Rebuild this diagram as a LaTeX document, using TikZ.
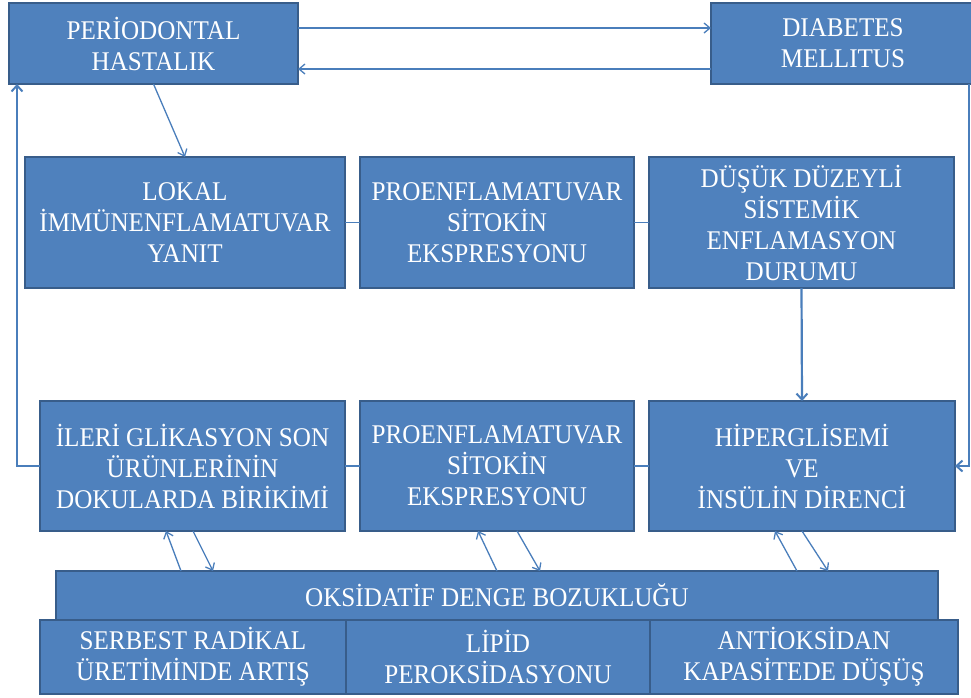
\documentclass[tikz,border=0pt]{standalone}
\usepackage{fontspec}
\setmainfont{Liberation Serif}[FakeStretch=0.93]
\usetikzlibrary{arrows.meta}
\definecolor{boxfill}{HTML}{4F81BD}
\definecolor{boxline}{HTML}{385D8A}
\definecolor{conn}{HTML}{4A7EBB}
\tikzset{
  blk/.style={draw=boxline, fill=boxfill, line width=2.2pt, inner sep=0pt, outer sep=0pt,
    text=white, align=center, font=\fontsize{27}{31}\selectfont},
  link/.style={draw=conn, line width=1.3pt},
  arr/.style={link, -{Straight Barb[length=6pt,width=10pt,line width=1.3pt]}},
  thickarr/.style={draw=conn, line width=2.2pt, -{Straight Barb[length=6pt,width=11pt,line width=2pt]}}
}
\begin{document}
\begin{tikzpicture}[x=1pt,y=-1pt]
\useasboundingbox (0,0) rectangle (971,697);
% top row
\node[blk, minimum width=289, minimum height=81] (ph) at (153.5,43.5) {PERİODONTAL\\HASTALIK};
\node[blk, minimum width=264, minimum height=81] (dm) at (843,43.5) {DIABETES\\MELLITUS};
% second row
\node[blk, minimum width=320, minimum height=131] (lok) at (185,222.5) {LOKAL\\İMMÜNENFLAMATUVAR\\YANIT};
\node[blk, minimum width=274, minimum height=131] (pro1) at (497,222.5) {PROENFLAMATUVAR\\SİTOKİN\\EKSPRESYONU};
\node[blk, minimum width=305, minimum height=131] (dus) at (801.5,222.5) {DÜŞÜK DÜZEYLİ\\SİSTEMİK\\ENFLAMASYON\\DURUMU};
% third row
\node[blk, minimum width=305, minimum height=130] (ile) at (192.5,466) {İLERİ GLİKASYON SON\\ÜRÜNLERİNİN\\DOKULARDA BİRİKİMİ};
\node[blk, minimum width=274, minimum height=130] (pro2) at (497,466) {PROENFLAMATUVAR\\SİTOKİN\\EKSPRESYONU};
\node[blk, minimum width=306, minimum height=130] (hip) at (802,466) {HİPERGLİSEMİ\\VE\\İNSÜLİN DİRENCİ};
% bottom
\node[blk, minimum width=882, minimum height=49] (oks) at (497,595.5) {OKSİDATİF DENGE BOZUKLUĞU};
\node[blk, minimum width=306, minimum height=74] (ser) at (193,657) {SERBEST RADİKAL\\ÜRETİMİNDE ARTIŞ};
\node[blk, minimum width=304, minimum height=74] (lip) at (498,657) {LİPİD\\PEROKSİDASYONU};
\node[blk, minimum width=308, minimum height=74] (ant) at (804,657) {ANTİOKSİDAN\\KAPASİTEDE DÜŞÜŞ};
% top arrows
\draw[arr] ([yshift=15.5pt]ph.east) -- ([yshift=15.5pt]dm.west);
\draw[arr] ([yshift=-25.5pt]dm.west) -- ([yshift=-25.5pt]ph.east);
% PH -> LOKAL
\draw[arr] (ph.south) -- (lok.north);
% row connectors
\draw[link] (lok.east) -- (pro1.west);
\draw[link] (pro1.east) -- (dus.west);
\draw[link] (ile.east) -- (pro2.west);
\draw[link] (pro2.east) -- (hip.west);
% vertical arrows
\draw[thickarr] (dus.south) -- (hip.north);
\draw[thickarr] (ile.west) -| ([xshift=8pt]ph.south west);
\draw[thickarr] ([xshift=-6pt]dm.south east) |- (hip.east);
% diagonal pairs
\draw[arr] ([xshift=125pt]oks.north west) -- ([xshift=126pt]ile.south west);
\draw[arr] ([xshift=153pt]ile.south west) -- ([xshift=157pt]oks.north west);
\draw[arr] ([xshift=441pt]oks.north west) -- ([xshift=118pt]pro2.south west);
\draw[arr] ([xshift=157pt]pro2.south west) -- ([xshift=484pt]oks.north west);
\draw[arr] ([xshift=741pt]oks.north west) -- ([xshift=126pt]hip.south west);
\draw[arr] ([xshift=153pt]hip.south west) -- ([xshift=772pt]oks.north west);
\end{tikzpicture}
\end{document}
